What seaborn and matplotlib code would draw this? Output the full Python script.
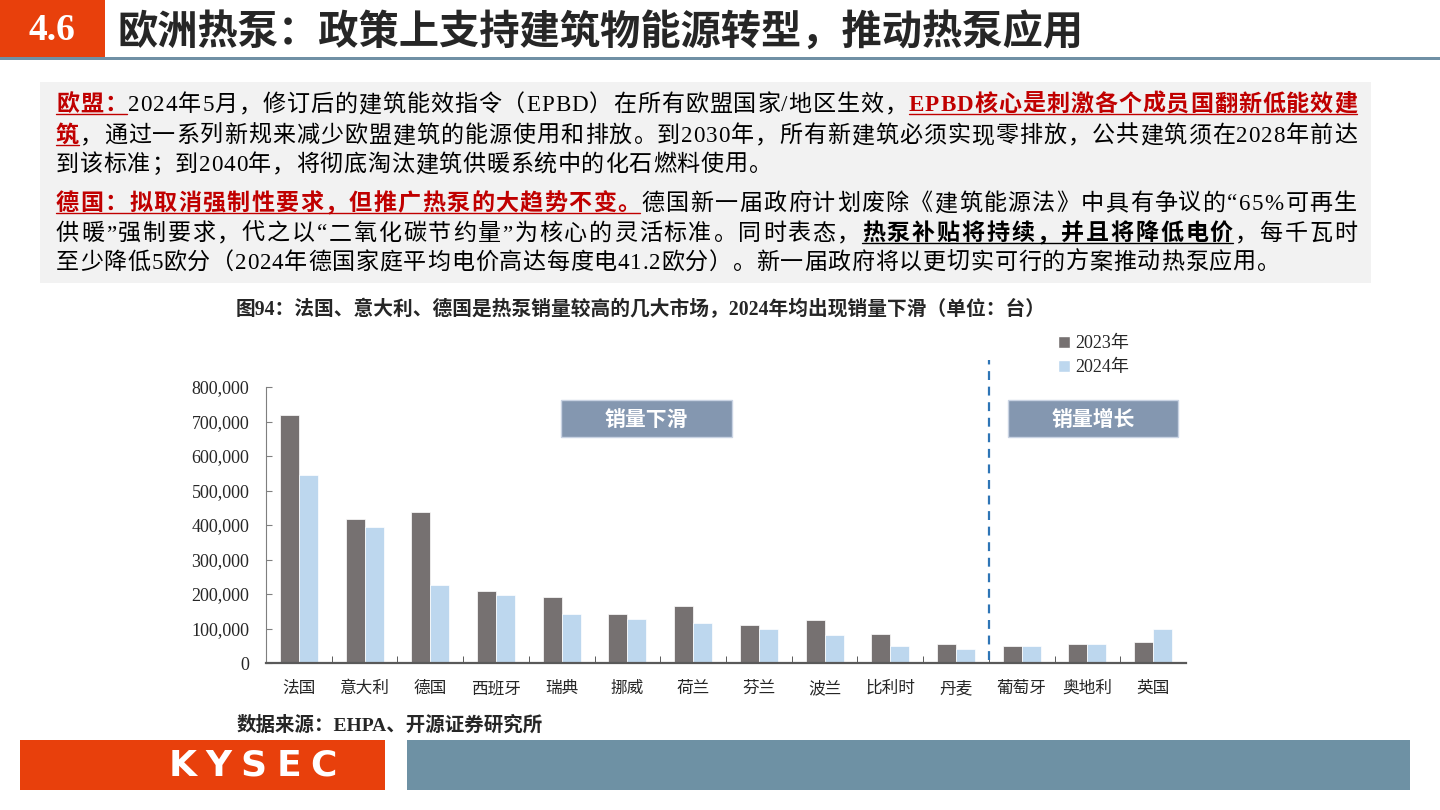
"""
Heat pump sales chart (EHPA) recreated as a report slide.
"""

import numpy as np
import pandas as pd
import matplotlib
matplotlib.use("Agg")
import matplotlib.pyplot as plt
import seaborn as sns
from matplotlib.patches import Rectangle, Patch
from matplotlib.lines import Line2D
from matplotlib.font_manager import FontProperties

# --- data ---
countries = ["法国", "意大利", "德国", "西班牙", "瑞典", "挪威", "荷兰",
             "芬兰", "波兰", "比利时", "丹麦", "葡萄牙", "奥地利", "英国"]
sales_2023 = [720000, 416000, 437000, 209000, 190000, 143000, 166000,
              109000, 125000, 83000, 55000, 49000, 55000, 61000]
sales_2024 = [546000, 393000, 227000, 198000, 143000, 128000, 115000,
              98000, 81000, 50000, 40000, 49000, 55000, 98000]
years = ["2023年", "2024年"]
y_ticks = [0, 100000, 200000, 300000, 400000, 500000, 600000, 700000, 800000]
split_pos = 10.5   # between 丹麦 and 葡萄牙

W, H = 1440, 810
FONTS = ["Liberation Serif", "Noto Sans CJK SC"]
ORANGE = "#E8400C"
RED = "#C00000"
DARK = "#767171"
LIGHT = "#BDD7EE"

sns.set_style("ticks")
plt.rcParams["font.family"] = FONTS
plt.rcParams["axes.unicode_minus"] = False

fig = plt.figure(figsize=(14.4, 8.1), dpi=100)
renderer = fig.canvas.get_renderer()


def fx(x):
    return x / W


def fy(y):
    return 1 - y / H


def box(x0, y0, x1, y1, color, ec="none", lw=0):
    fig.add_artist(Rectangle((fx(x0), fy(y1)), (x1 - x0) / W, (y1 - y0) / H,
                             transform=fig.transFigure, facecolor=color,
                             edgecolor=ec, linewidth=lw))


# --- header / footer blocks ---
box(0, 0, 105, 57, ORANGE)
box(0, 57, 1440, 60, "#7090A5")
fig.text(fx(52), fy(31), "4.6", color="white", fontsize=27, weight="bold",
         family="Liberation Serif", ha="center", va="center")
fig.text(fx(117), fy(33), "欧洲热泵：政策上支持建筑物能源转型，推动热泵应用",
         fontsize=29, weight="bold", family="Noto Sans CJK SC", ha="left", va="center")

box(40, 82, 1371, 283, "#F2F2F2")

box(20, 740, 385, 790, ORANGE)
box(407, 740, 1410, 790, "#6E91A4")
for ch, cx in zip("KYSEC", [183, 218, 253, 289, 323]):
    fig.text(fx(cx), fy(766), ch, color="white", fontsize=26, weight="bold",
             family="DejaVu Sans", ha="center", va="center")

# --- rich paragraph text (per character, justified) ---
BODY = 16.6
styles = {
    "n": dict(color="black", weight="normal", ul=False),
    "r": dict(color=RED, weight="bold", ul=True),
    "b": dict(color="black", weight="bold", ul=True),
}
_cache = {}


def char_metrics(ch, weight):
    key = (ch, weight)
    if key not in _cache:
        prop = FontProperties(family=FONTS, weight=weight, size=BODY)
        w = lambda s: renderer.get_text_width_height_descent(s, prop, ismath=False)[0]
        adv = w("国" + ch + "国") - w("国国")
        off = w("国" + ch) - w("国") - w(ch)
        _cache[key] = (adv, off)
    return _cache[key]


def rich_line(segments, base, justify, x0=56, x1=1357):
    chars = []
    for txt, st in segments:
        for ch in txt:
            chars.append((ch, st))
    advs = [char_metrics(ch, styles[st]["weight"])[0] for ch, st in chars]
    gap = (x1 - x0 - sum(advs)) / (len(chars) - 1) if justify else 0.8
    pen = x0
    spans = []
    for (ch, st), a in zip(chars, advs):
        s = styles[st]
        off = char_metrics(ch, s["weight"])[1]
        fig.text(fx(pen + off), fy(base), ch, color=s["color"], fontsize=BODY,
                 weight=s["weight"], ha="left", va="baseline")
        if s["ul"]:
            if spans and spans[-1][2] == st and abs(spans[-1][1] - pen) < gap + 1:
                spans[-1][1] = pen + a
            else:
                spans.append([pen, pen + a, st])
        pen += a + gap
    for sx0, sx1, st in spans:
        fig.add_artist(Line2D([fx(sx0), fx(sx1)], [fy(base + 3), fy(base + 3)],
                              transform=fig.transFigure, color=styles[st]["color"], lw=1.0))


paragraph = [
    ([("欧盟：", "r"), ("2024年5月，修订后的建筑能效指令（EPBD）在所有欧盟国家/地区生效，", "n"),
      ("EPBD核心是刺激各个成员国翻新低能效建", "r")], 111, True),
    ([("筑", "r"), ("，通过一系列新规来减少欧盟建筑的能源使用和排放。到2030年，所有新建筑必须实现零排放，公共建筑须在2028年前达", "n")], 142, True),
    ([("到该标准；到2040年，将彻底淘汰建筑供暖系统中的化石燃料使用。", "n")], 171, False),
    ([("德国：拟取消强制性要求，但推广热泵的大趋势不变。", "r"),
      ("德国新一届政府计划废除《建筑能源法》中具有争议的“65%可再生", "n")], 210, True),
    ([("供暖”强制要求，代之以“二氧化碳节约量”为核心的灵活标准。同时表态，", "n"),
      ("热泵补贴将持续，并且将降低电价", "b"), ("，每千瓦时", "n")], 240, True),
    ([("至少降低5欧分（2024年德国家庭平均电价高达每度电41.2欧分）。新一届政府将以更切实可行的方案推动热泵应用。", "n")], 269, False),
]
for segs, base, just in paragraph:
    rich_line(segs, base, just)

# --- chart ---
df = pd.DataFrame({
    "country": countries * 2,
    "sales": sales_2023 + sales_2024,
    "year": [years[0]] * len(countries) + [years[1]] * len(countries),
})

fig.text(fx(641), fy(310), "图94：法国、意大利、德国是热泵销量较高的几大市场，2024年均出现销量下滑（单位：台）",
         fontsize=14.2, weight="bold", ha="center", va="center")

ax = fig.add_axes([fx(266), fy(663), (1186 - 266) / W, (663 - 387) / H])
sns.barplot(data=df, x="country", y="sales", hue="year", order=countries,
            palette=[DARK, LIGHT], width=0.58, saturation=1, legend=False,
            edgecolor="white", linewidth=0.5, ax=ax)
ax.set_xlim(-0.5, len(countries) - 0.5)
ax.set_ylim(0, 800000)
ax.set_yticks(y_ticks)
ax.set_yticklabels([f"{v:,}" for v in y_ticks])
ax.set_xlabel("")
ax.set_ylabel("")
ax.set_xticks(np.arange(0.5, len(countries) - 1, 1), minor=True)
ax.tick_params(axis="x", which="major", length=0, pad=13, labelsize=12)
ax.tick_params(axis="x", which="minor", direction="in", length=5, color="#404040")
ax.tick_params(axis="y", direction="in", length=4, pad=12, labelsize=13, color="#808080")
sns.despine(ax=ax)
ax.spines["left"].set_color("#7F7F7F")
ax.spines["bottom"].set_color("#595959")
ax.spines["bottom"].set_linewidth(1.6)

ax.axvline(split_pos, ymin=0.01, ymax=(663 - 360) / 276, color="#2E75B6",
           ls=(0, (4, 3)), lw=1.6, clip_on=False)

for (x0, x1), label in [((561, 732), "销量下滑"), ((1008, 1178), "销量增长")]:
    box(x0, 400, x1, 437, "#8497B0", ec="#C9D3E3", lw=1)
    fig.text(fx((x0 + x1) / 2), fy(419), label, color="white", fontsize=15,
             weight="bold", family="Noto Sans CJK SC", ha="center", va="center")

fig.legend(handles=[Patch(fc=DARK), Patch(fc=LIGHT)], labels=years,
           loc="upper left", bbox_to_anchor=(fx(1058), fy(335)), frameon=False,
           handlelength=0.65, handleheight=0.65, handletextpad=0.3,
           labelspacing=0.4, fontsize=13, borderaxespad=0, borderpad=0)

fig.text(fx(237), fy(725), "数据来源：EHPA、开源证券研究所", fontsize=14,
         weight="bold", ha="left", va="center")

fig.savefig("out.png", dpi=100)
plt.close()
